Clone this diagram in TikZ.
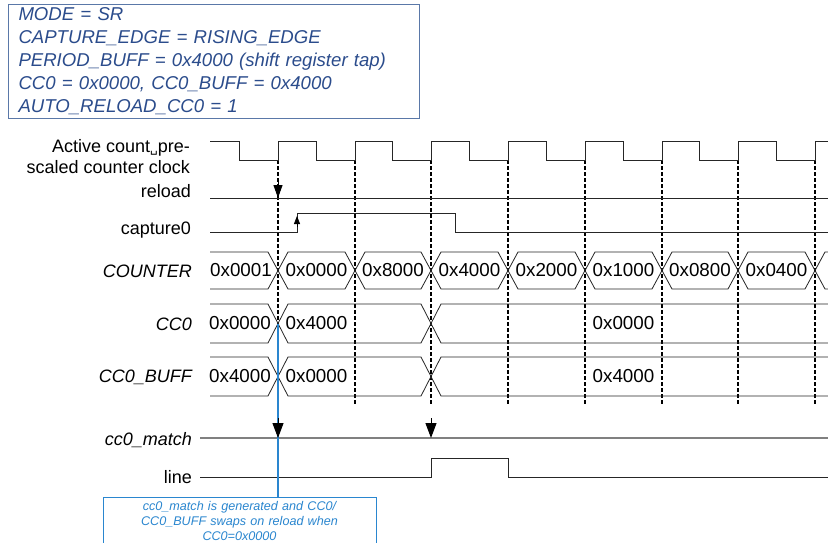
\documentclass[tikz,border=0pt]{standalone}
\usepackage{fontspec}
\setmainfont{Liberation Sans}
\newfontfamily\symfont{DejaVu Sans}
\usetikzlibrary{arrows.meta}
\definecolor{cfgtext}{HTML}{2B4C8C}
\definecolor{cfgedge}{HTML}{5A78A8}
\definecolor{noteblue}{HTML}{2A86CF}
\tikzset{
    sig/.style={draw=black!85, line width=0.8pt},
    gridline/.style={black, line width=1.1pt, dash pattern=on 4pt off 2pt},
    lbl/.style={anchor=base east, inner sep=0pt, font=\fontsize{18}{22}\selectfont},
    ilbl/.style={lbl, font=\fontsize{18}{22}\selectfont\itshape},
    val/.style={inner sep=0pt, font=\fontsize{18.8}{22}\selectfont},
    arrow/.style={-{Triangle[length=15pt, width=11pt]}, line width=1pt},
    smallarrow/.style={-{Triangle[length=8pt, width=6pt]}, line width=0.8pt},
    cfgbox/.style={draw=cfgedge, line width=1pt, text=cfgtext, align=left, text width=391pt,
        minimum height=114pt, inner xsep=10pt, font=\fontsize{18.6}{23}\selectfont\itshape},
    notebox/.style={draw=noteblue, line width=1pt, text=noteblue, align=center, text width=263pt,
        inner xsep=5pt, inner ysep=4pt, font=\fontsize{12.6}{14.8}\selectfont\itshape}
}
\begin{document}
\begin{tikzpicture}[x=1pt, y=-1pt]
\path[fill=white, use as bounding box] (0,0) rectangle (828,543);

% register settings
\node[cfgbox, anchor=north west] (cfg) at (8,4) {MODE = SR\\CAPTURE\_EDGE = RISING\_EDGE\\PERIOD\_BUFF = 0x4000 (shift register tap)\\CC0 = 0x0000, CC0\_BUFF = 0x4000\\AUTO\_RELOAD\_CC0 = 1};

% signal names
\node[lbl] (clkA) at (190,152) {Active count{\symfont\fontsize{12}{12}\selectfont ␣}pre-};
\node[lbl] (clkB) at (190,173) {scaled counter clock};
\node[lbl] (reload) at (191,197) {reload};
\node[lbl] (capture) at (191,234) {capture0};
\node[ilbl] (counter) at (192,277) {COUNTER};
\node[ilbl] (cc) at (192,330) {CC0};
\node[ilbl] (ccbuff) at (192,382) {CC0\_BUFF};
\node[ilbl] (match) at (192,445) {cc0\_match};
\node[lbl] (line) at (192,483) {line};

% dashed lines at the rising edges
\draw[gridline] (278,160) -- (278,323.5);
\foreach \r in {355,431,508,585,662,738,815}
    \draw[gridline] (\r,160) -- (\r,405);

% clock, reload, capture0
\draw[sig] (210,141) foreach \r in {278,355,431,508,585,662,738,815} {
    -- (\r-39,141) -- (\r-39,160) -- (\r,160) -- (\r,141) } -- (828,141);
\draw[sig] (210,198) -- (828,198);
\draw[sig] (210,232) -- (297,232) -- (297,213) -- (455,213) -- (455,232) -- (828,232);

% COUNTER bus
\draw[sig] (210,252) -- (268,252) -- (278,270.5) -- (268,289) -- (210,289);
\foreach \a/\b in {278/355,355/431,431/508,508/585,585/662,662/738,738/815}
    \draw[sig] (\a,270.5) -- (\a+10,252) -- (\b-10,252) -- (\b,270.5) -- (\b-10,289) -- (\a+10,289) -- cycle;
\draw[sig] (828,252) -- (825,252) -- (815,270.5) -- (825,289) -- (828,289);

% CC0 and CC0_BUFF buses
\foreach \t/\m/\u in {304/323.5/343, 357/376.5/396} {
    \draw[sig] (210,\t) -- (268,\t) -- (278,\m) -- (268,\u) -- (210,\u);
    \draw[sig] (278,\m) -- (288,\t) -- (421,\t) -- (431,\m) -- (421,\u) -- (288,\u) -- cycle;
    \draw[sig] (828,\t) -- (441,\t) -- (431,\m) -- (441,\u) -- (828,\u);
}

% bus values
\node[val] (cnt0) at (241,270.5) {0x0001};
\node[val] (cnt1) at (316.5,270.5) {0x0000};
\node[val] (cnt2) at (393,270.5) {0x8000};
\node[val] (cnt3) at (469.5,270.5) {0x4000};
\node[val] (cnt4) at (546.5,270.5) {0x2000};
\node[val] (cnt5) at (623.5,270.5) {0x1000};
\node[val] (cnt6) at (700,270.5) {0x0800};
\node[val] (cnt7) at (776.5,270.5) {0x0400};
\node[val] (cc0) at (240,323.5) {0x0000};
\node[val] (cc1) at (316.5,323.5) {0x4000};
\node[val] (cc2) at (623.5,323.5) {0x0000};
\node[val] (buf0) at (240,376.5) {0x4000};
\node[val] (buf1) at (316.5,376.5) {0x0000};
\node[val] (buf2) at (623.5,376.5) {0x4000};

% cc0_match and line
\draw[draw=black!50, line width=1.5pt] (200,438) -- (828,438);
\draw[sig] (200,477) -- (431,477) -- (431,458) -- (508,458) -- (508,477) -- (828,477);

% note
\node[notebox, anchor=north] (note) at (239.5,497) {cc0\_match is generated and CC0/\\CC0\_BUFF swaps on reload when\\CC0=0x0000};
\coordinate (swap) at (278,323.5);
\draw[noteblue, line width=1.4pt] (swap) -- (swap |- note.north);

% event arrows
\coordinate (rld) at (278,198);
\coordinate (cap) at (297,216);
\coordinate (hitA) at (278,438);
\coordinate (hitB) at (431,438);
\draw[arrow, -{Triangle[length=13pt, width=9pt]}] ([yshift=18pt]rld) -- (rld);
\draw[smallarrow] ([yshift=-11pt]cap) -- (cap);
\draw[arrow] ([yshift=20pt]hitA) -- (hitA);
\draw[arrow] ([yshift=20pt]hitB) -- (hitB);
\end{tikzpicture}
\end{document}
